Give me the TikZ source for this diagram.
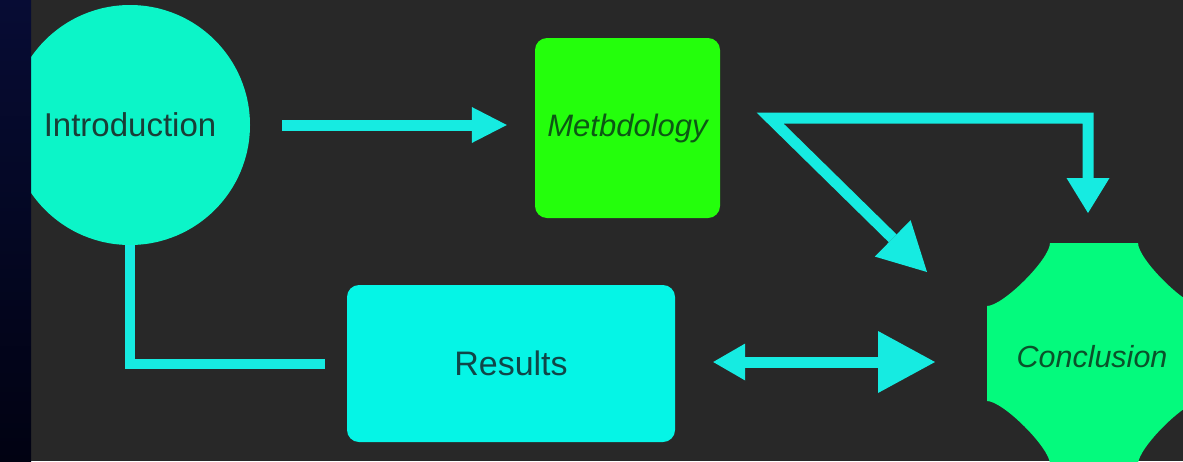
\documentclass[tikz,border=0pt]{standalone}
\usepackage{fontspec}
\setmainfont{Liberation Sans}
\usetikzlibrary{arrows.meta,calc}
\definecolor{bgC}{RGB}{40,40,40}
\definecolor{stripTop}{RGB}{7,12,52}
\definecolor{stripBot}{RGB}{1,2,18}
\definecolor{introC}{RGB}{12,245,200}
\definecolor{introT}{RGB}{25,62,55}
\definecolor{methC}{RGB}{36,255,12}
\definecolor{methT}{RGB}{12,88,20}
\definecolor{resC}{RGB}{5,245,230}
\definecolor{resT}{RGB}{16,70,72}
\definecolor{concC}{RGB}{4,250,125}
\definecolor{concT}{RGB}{10,82,42}
\definecolor{arrC}{RGB}{22,235,225}
\newcommand\fsz[1]{\fontsize{#1}{#1}\selectfont}
\tikzset{
  conn/.style={draw=arrC, line width=11pt, line join=miter},
  tipA/.style={arrows={-{Triangle[length=35pt,width=36pt,line width=0pt]}}},
}
\begin{document}
\begin{tikzpicture}[x=1pt,y=-1pt]
\useasboundingbox (0,0) rectangle (1183,461);
\clip (0,0) rectangle (1183,461);
\fill[bgC] (0,0) rectangle (1183,461);

% Introduction
\node[circle, fill=introC, minimum size=240pt, inner sep=0pt,
      text=introT, font=\fsz{33}] (intro) at (130,125) {Introduction};

% Left strip
\shade[top color=stripTop, bottom color=stripBot] (0,0) rectangle (31,461);

% Methodology
\node[rectangle, rounded corners=12pt, fill=methC, minimum width=185pt,
      minimum height=180pt, text=methT, font=\fsz{31}\itshape] (meth) at (627.5,128) {Metbdology};

% Results
\node[rectangle, rounded corners=12pt, fill=resC, minimum width=328pt,
      minimum height=157pt, text=resT, font=\fsz{34}] (res) at (511,363.5) {Results};

% Conclusion shape
\fill[concC] (1050,243) -- (1138,243)
  .. controls (1138,259) and (1185,306) .. (1201,306) -- (1201,401)
  .. controls (1185,401) and (1138,448) .. (1138,464) -- (1050,464)
  .. controls (1050,448) and (1003,401) .. (987,401) -- (987,306)
  .. controls (1003,306) and (1050,259) .. (1050,243) -- cycle;
\node[text=concT, font=\fsz{30.5}\itshape] (concl) at (1092,357) {Conclusion};
\coordinate (cW) at (987,362);
\coordinate (cTop) at (1088,213);
\coordinate (cDiag) at (927,272);
\coordinate (split) at (770,118);

% Connectors
\draw[conn, tipA, shorten <=32pt, shorten >=28pt] (intro.east) -- (intro.east -| meth.west);
\draw[conn, arrows={{Triangle[length=35pt,width=43pt,line width=0pt]}-{Triangle[length=48pt,width=51pt,line width=0pt]}}]
  (cTop) -- (cTop |- split) -- (split) -- (cDiag);
\draw[conn, line width=10pt] (intro.south) |- ($(res.west)+(-22,0)$);
\draw[conn, arrows={{Triangle[length=32pt,width=37pt,line width=0pt]}-{Triangle[length=57pt,width=62pt,line width=0pt]}},
      shorten <=38pt, shorten >=52pt] (res.east |- cW) -- (cW);
\end{tikzpicture}
\end{document}
